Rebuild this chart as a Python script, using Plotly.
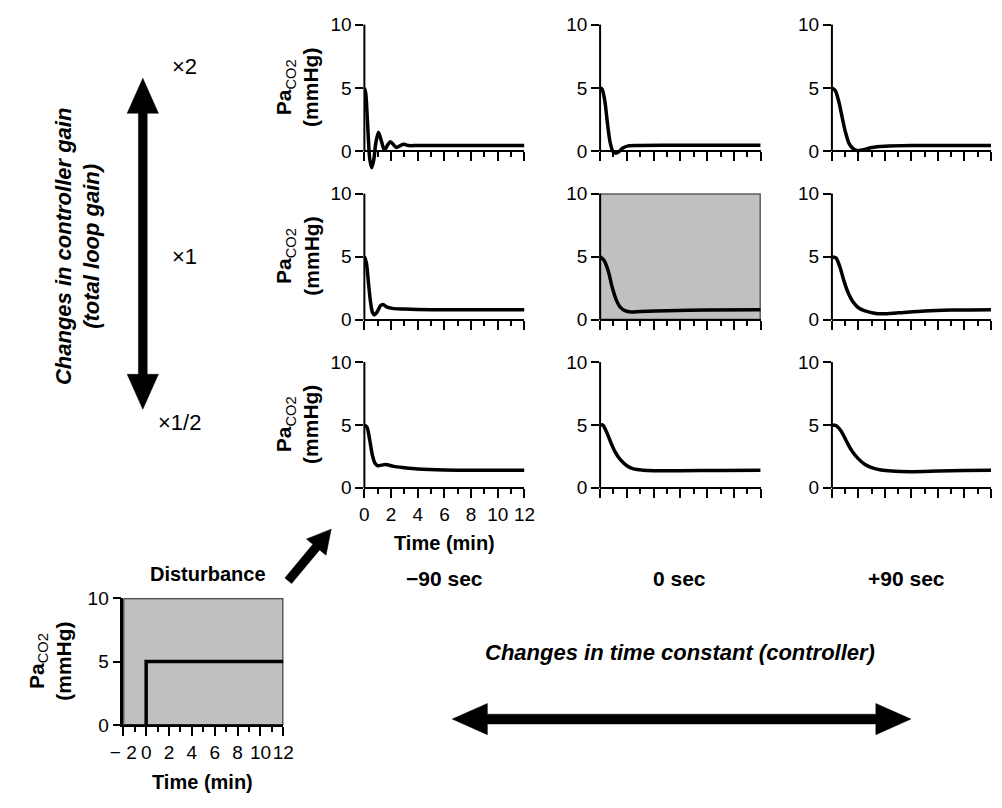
import plotly.graph_objects as go

W, H = 1002, 808
FONT = "Liberation Sans, Arial, Helvetica, sans-serif"

# ---------------- data ----------------
# rows: controller gain x2, x1, x1/2 ; columns: time constant -90 s, 0 s, +90 s
t_g2_m90 = [0, 0.1, 0.2, 0.3, 0.4, 0.55, 0.7, 0.85, 1.05, 1.25, 1.5, 1.75, 1.95, 2.2, 2.4, 2.7, 2.95, 3.3, 4, 6, 8, 10, 12]
y_g2_m90 = [5, 4.6, 3.0, 1.0, -0.6, -1.3, -0.7, 0.6, 1.5, 0.9, 0.1, 0.5, 0.75, 0.5, 0.3, 0.45, 0.55, 0.45, 0.45, 0.45, 0.45, 0.45, 0.45]

t_g2_0 = [0, 0.15, 0.35, 0.55, 0.75, 0.95, 1.15, 1.4, 1.7, 2.1, 3, 6, 9, 12]
y_g2_0 = [5, 4.9, 4.0, 2.2, 0.7, 0.0, -0.15, -0.05, 0.25, 0.42, 0.45, 0.47, 0.48, 0.48]

t_g2_p90 = [0, 0.25, 0.5, 0.75, 1.0, 1.3, 1.6, 1.9, 2.3, 3, 4, 6, 9, 12]
y_g2_p90 = [5, 4.8, 4.0, 2.8, 1.6, 0.6, 0.2, 0.05, 0.1, 0.3, 0.4, 0.45, 0.45, 0.45]

t_g1_m90 = [0, 0.15, 0.3, 0.45, 0.6, 0.75, 0.95, 1.2, 1.4, 1.7, 2.1, 3, 5, 8, 12]
y_g1_m90 = [5, 4.5, 3.0, 1.5, 0.6, 0.4, 0.6, 1.1, 1.2, 1.0, 0.9, 0.85, 0.8, 0.8, 0.8]

t_g1_0 = [0, 0.3, 0.6, 0.9, 1.2, 1.5, 1.9, 2.3, 3, 5, 8, 12]
y_g1_0 = [5, 4.7, 3.9, 2.6, 1.6, 1.0, 0.7, 0.62, 0.65, 0.72, 0.78, 0.8]

t_g1_p90 = [0, 0.3, 0.6, 0.9, 1.2, 1.6, 2.0, 2.5, 3.2, 3.8, 5, 7, 9, 12]
y_g1_p90 = [5, 4.9, 4.2, 3.1, 2.2, 1.4, 0.95, 0.7, 0.52, 0.47, 0.55, 0.7, 0.77, 0.8]

t_g05_m90 = [0, 0.2, 0.4, 0.6, 0.8, 1.0, 1.3, 1.6, 2.2, 3, 4, 6, 9, 12]
y_g05_m90 = [5, 4.8, 3.8, 2.6, 1.95, 1.75, 1.8, 1.85, 1.7, 1.6, 1.5, 1.42, 1.4, 1.4]

t_g05_0 = [0, 0.2, 0.5, 0.8, 1.1, 1.5, 2.0, 2.5, 3.2, 4, 6, 9, 12]
y_g05_0 = [5, 5.0, 4.4, 3.6, 2.9, 2.25, 1.75, 1.5, 1.4, 1.36, 1.36, 1.38, 1.4]

t_g05_p90 = [0, 0.3, 0.7, 1.1, 1.5, 2.0, 2.5, 3.0, 3.7, 4.5, 5.9, 8, 10, 12]
y_g05_p90 = [5, 4.95, 4.5, 3.7, 2.95, 2.3, 1.85, 1.6, 1.42, 1.33, 1.28, 1.33, 1.38, 1.4]

# disturbance step
t_dist = [0, 0, 12]
y_dist = [0, 5, 5]

x_ticks = [0, 2, 4, 6, 8, 10, 12]
x_minor = [1, 3, 5, 7, 9, 11]
y_ticks = [0, 5, 10]
dist_ticks = [-2, 0, 2, 4, 6, 8, 10, 12]
dist_ticktext = ["\u2212 2", "0", "2", "4", "6", "8", "10", "12"]
dist_minor = [-1, 1, 3, 5, 7, 9, 11]

row_labels = ["\u00d72", "\u00d71", "\u00d71/2"]
col_labels = ["\u221290 sec", "0 sec", "+90 sec"]

panels = [
    [(t_g2_m90, y_g2_m90), (t_g2_0, y_g2_0), (t_g2_p90, y_g2_p90)],
    [(t_g1_m90, y_g1_m90), (t_g1_0, y_g1_0), (t_g1_p90, y_g1_p90)],
    [(t_g05_m90, y_g05_m90), (t_g05_0, y_g05_0), (t_g05_p90, y_g05_p90)],
]

# ---------------- layout geometry (pixels) ----------------
col_px = [(360, 524), (601.5, 766), (839, 1002)]
row_px = [(15, 145), (188.5, 318), (361.5, 490.5)]
YMIN = -1.7
TICK = 19


def px(x):
    return x / W


def py(y):
    return 1 - y / H


fig = go.Figure()
layout = dict(
    width=W, height=H, margin=dict(l=0, r=0, t=0, b=0),
    paper_bgcolor="white", plot_bgcolor="rgba(0,0,0,0)",
    showlegend=False, font=dict(family=FONT, size=TICK, color="black"),
)
shapes = []
annotations = []

for r in range(3):
    for c in range(3):
        k = r * 3 + c + 1
        t, y = panels[r][c]
        fig.add_trace(go.Scatter(
            x=t, y=y, mode="lines", line=dict(color="black", width=3.5, shape="spline", smoothing=0.8),
            xaxis=f"x{k}", yaxis=f"y{k}", hoverinfo="skip"))
        x0, x1 = col_px[c]
        top, bot = row_px[r]
        scale = (bot - top) / 10.0
        bot_ext = bot + (-YMIN) * scale
        layout[f"xaxis{k}"] = dict(
            domain=[px(x0), px(x1)], range=[0, 12], anchor="free", position=py(bot),
            showline=True, linecolor="black", linewidth=2, showgrid=False, zeroline=False,
            ticks="outside", ticklen=9, tickwidth=2, tickcolor="black",
            tickmode="array", tickvals=x_ticks, tickangle=0,
            minor=dict(tickvals=x_minor, ticks="outside", ticklen=5, tickwidth=2,
                       tickcolor="black", showgrid=False),
            showticklabels=(r == 2 and c == 0), tickfont=dict(size=TICK),
            fixedrange=True,
        )
        layout[f"yaxis{k}"] = dict(
            domain=[py(bot_ext), py(top)], range=[YMIN, 10], anchor=f"x{k}",
            showline=False, showgrid=False, zeroline=False,
            ticks="outside", ticklen=8, tickwidth=2, tickcolor="black",
            tickmode="array", tickvals=y_ticks, tickfont=dict(size=TICK),
            fixedrange=True,
        )
        # y-axis line from 0 to 10 only
        shapes.append(dict(type="line", xref="paper", yref="paper",
                           x0=px(x0), x1=px(x0), y0=py(bot), y1=py(top),
                           line=dict(color="black", width=2)))
        if r == 1 and c == 1:
            shapes.append(dict(type="rect", xref=f"x{k}", yref=f"y{k}", x0=0, x1=12, y0=0, y1=10,
                               fillcolor="#c0c0c0", line=dict(color="#222222", width=2),
                               layer="below"))
        if c == 0:
            annotations.append(dict(
                xref="paper", yref="paper", x=px(291), y=py((top + bot) / 2),
                text="<b>Pa</b><sub>CO2</sub><br><b>(mmHg)</b>", textangle=-90,
                showarrow=False, xanchor="center", yanchor="middle",
                font=dict(size=21, family=FONT)))

# disturbance panel
kd = 10
fig.add_trace(go.Scatter(x=t_dist, y=y_dist, mode="lines",
                         line=dict(color="black", width=3.5),
                         xaxis=f"x{kd}", yaxis=f"y{kd}", hoverinfo="skip"))
dx0, dx1, dtop, dbot = 113, 277, 604, 734
layout[f"xaxis{kd}"] = dict(
    domain=[px(dx0), px(dx1)], range=[-2, 12], anchor=f"y{kd}",
    showline=True, linecolor="black", linewidth=2, showgrid=False, zeroline=False,
    ticks="outside", ticklen=9, tickwidth=2, tickcolor="black",
    tickmode="array", tickvals=dist_ticks, ticktext=dist_ticktext, tickangle=0,
    minor=dict(tickvals=dist_minor, ticks="outside", ticklen=5, tickwidth=2,
               tickcolor="black", showgrid=False),
    tickfont=dict(size=TICK), fixedrange=True)
layout[f"yaxis{kd}"] = dict(
    domain=[py(dbot), py(dtop)], range=[0, 10], anchor=f"x{kd}",
    showline=True, linecolor="black", linewidth=2.5, showgrid=False, zeroline=False,
    ticks="outside", ticklen=8, tickwidth=2, tickcolor="black",
    tickmode="array", tickvals=y_ticks, tickfont=dict(size=TICK), fixedrange=True)
shapes.append(dict(type="rect", xref=f"x{kd}", yref=f"y{kd}", x0=-2, x1=12, y0=0, y1=10,
                   fillcolor="#c0c0c0", line=dict(color="#222222", width=2), layer="below"))
annotations.append(dict(
    xref="paper", yref="paper", x=px(37), y=py((dtop + dbot) / 2),
    text="<b>Pa</b><sub>CO2</sub><br><b>(mmHg)</b>", textangle=-90,
    showarrow=False, xanchor="center", yanchor="middle", font=dict(size=21, family=FONT)))
annotations.append(dict(xref="paper", yref="paper", x=px(200), y=py(579),
                        text="<b>Disturbance</b>", showarrow=False,
                        xanchor="center", yanchor="middle", font=dict(size=20)))
annotations.append(dict(xref="paper", yref="paper", x=px(194), y=py(793),
                        text="<b>Time (min)</b>", showarrow=False,
                        xanchor="center", yanchor="middle", font=dict(size=20)))
annotations.append(dict(xref="paper", yref="paper", x=px(442), y=py(547),
                        text="<b>Time (min)</b>", showarrow=False,
                        xanchor="center", yanchor="middle", font=dict(size=20)))

# gain labels
for lbl, (xx, yy) in zip(row_labels, [(161, 58), (161, 253), (147, 423)]):
    annotations.append(dict(xref="paper", yref="paper", x=px(xx), y=py(yy), text=lbl,
                            showarrow=False, xanchor="left", yanchor="middle",
                            font=dict(size=22)))
annotations.append(dict(
    xref="paper", yref="paper", x=px(66), y=py(243),
    text="<b><i>Changes in controller gain</i></b><br><b><i>(total loop gain)</i></b>",
    textangle=-90, showarrow=False, xanchor="center", yanchor="middle",
    font=dict(size=22)))

# time-constant labels
for lbl, xx in zip(col_labels, [442, 683, 915]):
    annotations.append(dict(xref="paper", yref="paper", x=px(xx), y=py(584),
                            text=f"<b>{lbl}</b>", showarrow=False,
                            xanchor="center", yanchor="middle", font=dict(size=21)))
annotations.append(dict(xref="paper", yref="paper", x=px(683), y=py(660),
                        text="<b><i>Changes in time constant (controller)</i></b>",
                        showarrow=False, xanchor="center", yanchor="middle",
                        font=dict(size=22)))


# ---------------- arrows as polygons ----------------
def arrow_path(x0, y0, x1, y1, sw, hw, hl, double=False):
    import math
    dx, dy = x1 - x0, y1 - y0
    L = math.hypot(dx, dy)
    ux, uy = dx / L, dy / L
    nx, ny = -uy, ux

    def P(s, n):
        return (x0 + ux * s + nx * n, y0 + uy * s + ny * n)

    pts = []
    if double:
        pts += [P(0, 0), P(hl, hw / 2), P(hl, sw / 2)]
    else:
        pts += [P(0, sw / 2)]
    pts += [P(L - hl, sw / 2), P(L - hl, hw / 2), P(L, 0), P(L - hl, -hw / 2), P(L - hl, -sw / 2)]
    if double:
        pts += [P(hl, -sw / 2), P(hl, -hw / 2)]
    else:
        pts += [P(0, -sw / 2)]
    d = "M " + " L ".join(f"{px(a):.5f},{py(b):.5f}" for a, b in pts) + " Z"
    return dict(type="path", xref="paper", yref="paper", path=d,
                fillcolor="black", line=dict(color="black", width=0.5))


shapes.append(arrow_path(133, 410, 133, 70, 9, 32, 36, double=True))
shapes.append(arrow_path(450, 728, 920, 728, 10, 32, 36, double=True))
shapes.append(arrow_path(282, 586, 326, 533, 9, 26, 24))

layout["shapes"] = shapes
layout["annotations"] = annotations
fig.update_layout(**layout)
fig.write_html(
    "out.html",
    post_script="document.body.style.margin='0px';document.body.style.padding='0px';"
                "document.documentElement.style.margin='0px';",
)
